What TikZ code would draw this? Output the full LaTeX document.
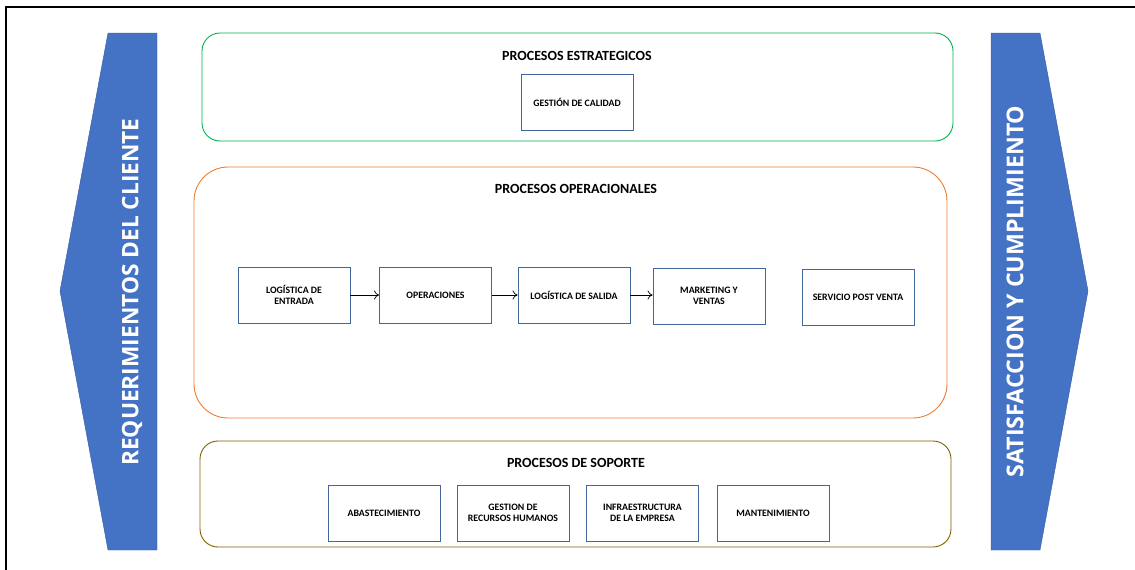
\documentclass[tikz,border=0pt]{standalone}
\usepackage{fontspec}
\setmainfont{Carlito}
\newfontfamily\bannerfont{Open Sans}
\usetikzlibrary{arrows.meta}
\definecolor{bannerblue}{HTML}{4472C4}
\definecolor{boxblue}{HTML}{41679E}
\definecolor{stratgreen}{HTML}{00B050}
\definecolor{opsorange}{HTML}{ED7D31}
\definecolor{supbrown}{HTML}{806000}
\tikzset{
  procbox/.style={draw=boxblue, line width=0.9pt, minimum width=112pt, minimum height=56pt,
    align=center, inner sep=2pt, font=\bfseries\fontsize{9.8}{11.5}\selectfont},
  group/.style={rounded corners=#1, line width=0.9pt},
  grouptitle/.style={font=\bfseries\fontsize{14}{16}\selectfont},
  banner/.style={fill=bannerblue, draw=bannerblue!80!black, line width=0.4pt},
  bannertext/.style={text=white, rotate=90, font=\bannerfont\bfseries\fontsize{#1}{24}\selectfont},
  flow/.style={-{To[length=5pt,width=9pt]}, line width=0.7pt}
}
\begin{document}
\begin{tikzpicture}[x=1pt,y=-1pt]
\useasboundingbox (0,0) rectangle (1135,570);
% page frame (top and left rules)
\draw[line width=2.2pt] (6,575) -- (6,7) -- (1140,7);

% side banners
\path[banner] (108,33) -- (157,33) -- (157,550) -- (108,550) -- (60,291) -- cycle;
\node[bannertext=22.7] (req) at (132,292) {REQUERIMIENTOS DEL CLIENTE};
\path[banner] (991,33) -- (1040,33) -- (1088,291) -- (1040,550) -- (991,550) -- cycle;
\node[bannertext=23.2] (sat) at (1015,291.5) {SATISFACCION Y CUMPLIMIENTO};

% strategic processes
\draw[group=18pt, draw=stratgreen] (202,33) rectangle (953,141);
\node[grouptitle] (tstrat) at (577,56) {PROCESOS ESTRATEGICOS};
\node[procbox] (cal) at (577,102) {GESTIÓN DE CALIDAD};

% operational processes
\draw[group=34pt, draw=opsorange] (194,167) rectangle (947,418);
\node[grouptitle] (tops) at (576,189) {PROCESOS OPERACIONALES};
\node[procbox] (lent) at (294,295) {LOGÍSTICA DE\\ENTRADA};
\node[procbox] (oper) at (435.5,295) {OPERACIONES};
\node[procbox] (lsal) at (574,295) {LOGÍSTICA DE SALIDA};
\node[procbox] (mkt) at (709,296) {MARKETING Y\\VENTAS};
\node[procbox] (post) at (858,297) {SERVICIO POST VENTA};
\draw[flow] (lent) -- (oper);
\draw[flow] (oper) -- (lsal);
\draw[flow] (lsal.east) -- (mkt.west |- lsal.east);

% support processes
\draw[group=18pt, draw=supbrown] (200,441) rectangle (951,547);
\node[grouptitle] (tsup) at (576,463) {PROCESOS DE SOPORTE};
\node[procbox] (aba) at (384,513) {ABASTECIMIENTO};
\node[procbox] (rrhh) at (513,513) {GESTION DE\\RECURSOS HUMANOS};
\node[procbox] (infra) at (642.5,513) {INFRAESTRUCTURA\\DE LA EMPRESA};
\node[procbox] (mant) at (773,513) {MANTENIMIENTO};
\end{tikzpicture}
\end{document}
